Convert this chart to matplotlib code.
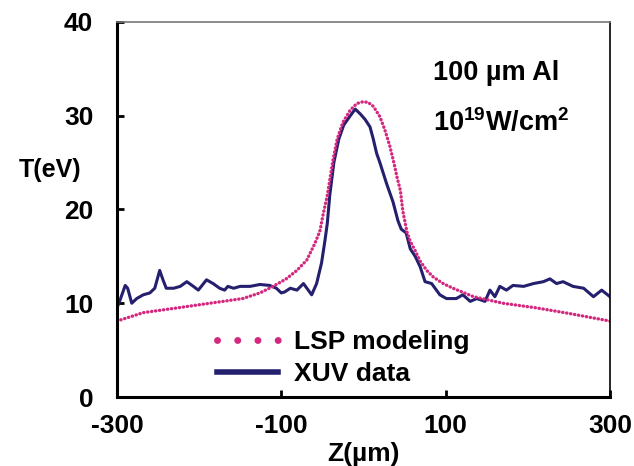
import numpy as np
import matplotlib
matplotlib.use("Agg")
import matplotlib.pyplot as plt
from matplotlib.lines import Line2D

plt.rcParams['font.family'] = ['Liberation Sans', 'DejaVu Sans']
plt.rcParams['font.weight'] = 'bold'
plt.rcParams['axes.labelweight'] = 'bold'
plt.rcParams['axes.unicode_minus'] = False
plt.rcParams['mathtext.default'] = 'regular'

# LSP modeling (dotted, pink)
lsp_z = [-300, -268, -227, -187, -147, -126, -110, -94, -81, -69, -59, -53, -49, -44,
         -37, -32, -25, -16, -8, 0, 6, 12, 20, 26, 32, 37, 41, 45, 48, 53, 57, 63,
         69, 77, 85, 97, 109, 134, 170, 211, 251, 300]
lsp_t = [8.1, 9.0, 9.5, 10.0, 10.5, 11.1, 11.8, 12.6, 13.5, 14.6, 16.4, 17.7, 19.5, 21.5,
         25.3, 27.5, 29.3, 30.6, 31.3, 31.5, 31.4, 31.0, 29.9, 28.5, 26.8, 25.0, 23.4, 22.0,
         19.8, 17.6, 16.6, 15.6, 14.5, 13.5, 12.8, 12.1, 11.6, 10.7, 10.0, 9.5, 8.9, 8.1]

# XUV data (solid, navy)
xuv_z = [-300, -296, -290, -287, -282, -276, -268, -260, -254, -248, -244, -240, -231,
         -223, -215, -207, -201, -191, -183, -175, -169, -165, -158, -150, -138, -126,
         -114, -106, -100, -96, -89, -81, -73, -63, -57, -51, -47, -44, -41, -36, -30,
         -24, -16, -10, -4, 2, 8, 12, 16, 20, 28, 36, 42, 46, 52, 57, 63, 69, 75, 83,
         93, 101, 113, 121, 130, 138, 148, 154, 160, 166, 174, 182, 195, 207, 219, 227,
         235, 243, 255, 268, 280, 290, 300]
xuv_t = [9.5, 10.4, 11.9, 11.6, 10.0, 10.5, 10.9, 11.1, 11.6, 13.5, 12.5, 11.6, 11.6,
         11.8, 12.3, 11.8, 11.4, 12.5, 12.1, 11.6, 11.4, 11.8, 11.6, 11.8, 11.8, 12.0,
         11.9, 11.6, 11.1, 11.2, 11.6, 11.4, 12.1, 10.9, 12.1, 14.3, 16.6, 18.5, 21.5, 25.0, 27.5,
         29.0, 30.0, 30.7, 30.2, 29.6, 28.8, 27.5, 26.0, 25.0, 22.8, 20.8, 18.8, 17.9, 17.5, 15.8,
         15.0, 13.9, 12.3, 12.1, 10.9, 10.5, 10.5, 10.9, 10.2, 10.5, 10.2, 11.4, 10.7, 11.8,
         11.4, 11.9, 11.8, 12.1, 12.3, 12.6, 12.1, 12.3, 11.8, 11.6, 10.7, 11.4, 10.7]

xticks = [-300, -100, 100, 300]
yticks = [0, 10, 20, 30, 40]

pink = "#d4287f"
navy = "#25206e"

fig = plt.figure(figsize=(6.34, 4.66), dpi=100)
ax = fig.add_axes([0.1845, 0.148, 0.7775, 0.805])

ax.plot(xuv_z, xuv_t, color=navy, lw=2.2, solid_joinstyle='round')
ax.plot(lsp_z, lsp_t, color=pink, lw=2.4, linestyle=(0, (0.1, 1.1)), dash_capstyle='round')

ax.set_xlim(-300, 300)
ax.set_ylim(0, 40)
ax.set_xticks(xticks)
ax.set_yticks(yticks)
ax.tick_params(direction='in', length=5, width=2, labelsize=19)
ax.tick_params(axis='y', pad=17)
ax.tick_params(axis='x', pad=12)

for s in ['left', 'bottom']:
    ax.spines[s].set_linewidth(2.2)
ax.spines['right'].set_linewidth(1.2)
ax.spines['top'].set_linewidth(1.2)
ax.spines['top'].set_color('#777777')

ax.set_xlabel("Z(µm)", fontsize=19, labelpad=3)
ax.set_ylabel("T(eV)", fontsize=18, rotation=0, va='center')
ax.yaxis.set_label_coords(-0.136, 0.605)

ax.text(0.641, 34.6, "100 µm Al", transform=ax.get_yaxis_transform(),
        fontsize=19.5, va='center', ha='left')
ax.text(0.641, 29.3, "10$^{19}$W/cm$^{2}$", transform=ax.get_yaxis_transform(),
        fontsize=19.5, va='center', ha='left')

handles = [Line2D([], [], color=pink, lw=5, linestyle=(0, (0.01, 2.9)), dash_capstyle='round'),
           Line2D([], [], color=navy, lw=4)]
ax.legend(handles, ["LSP modeling", "XUV data"], loc='upper left',
          bbox_to_anchor=(0.203, 0.178), frameon=False, fontsize=19,
          handlelength=2.3, handletextpad=0.6, labelspacing=0.3,
          borderpad=0, borderaxespad=0)

fig.savefig("out.png", dpi=100)
